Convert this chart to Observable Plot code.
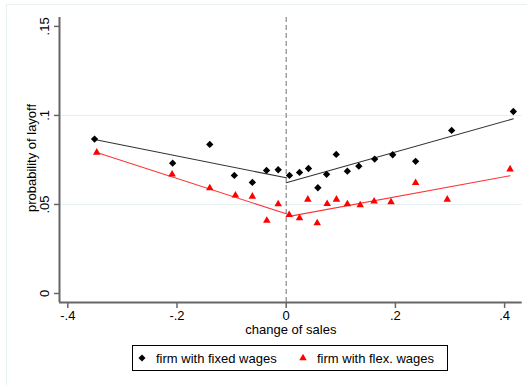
<!DOCTYPE html>
<html>
<head>
<meta charset="utf-8">
<script src="https://cdn.jsdelivr.net/npm/d3@7"></script>
<script src="https://cdn.jsdelivr.net/npm/@observablehq/plot@0.6"></script>
<style>
  body { margin: 0; background: #fff; }
  #wrap { position: relative; width: 527px; height: 385px; overflow: hidden; font-family: "Liberation Sans", Arial, sans-serif; }
  #outer { position: absolute; left: 6px; top: 4px; width: 540px; height: 400px; border: 1px solid #e8f0f0; box-sizing: border-box; pointer-events: none; }
  #chart { position: absolute; left: 0; top: 0; }
  #legend { position: absolute; left: 132px; top: 345px; width: 316px; height: 26px; box-sizing: border-box; border: 1px solid #000; background: #fff; font-size: 13px; color: #000; }
  #legend .item { position: absolute; top: 0; height: 24px; display: flex; align-items: center; }
  #legend svg { display: block; }
</style>
</head>
<body>
<div id="wrap">
  <div id="outer"></div>
  <div id="chart"></div>
  <div id="legend"></div>
</div>
<script>
// ---- data ----
const fixedX = [-0.351, -0.208, -0.140, -0.095, -0.062, -0.036, -0.0147, 0.006, 0.0244, 0.0408, 0.058, 0.074, 0.0916, 0.112, 0.133, 0.162, 0.195, 0.237, 0.303, 0.416];
const fixedY = [0.0867, 0.0732, 0.0837, 0.0663, 0.0624, 0.0691, 0.0695, 0.0663, 0.0680, 0.0702, 0.0594, 0.0669, 0.0781, 0.0687, 0.0715, 0.0755, 0.0779, 0.0742, 0.0916, 0.1022];
const flexX = [-0.347, -0.209, -0.140, -0.093, -0.062, -0.0355, -0.0147, 0.0055, 0.0244, 0.0396, 0.0568, 0.075, 0.092, 0.112, 0.1355, 0.161, 0.192, 0.237, 0.295, 0.410];
const flexY = [0.0792, 0.0669, 0.0592, 0.0551, 0.0545, 0.0410, 0.0502, 0.0442, 0.0423, 0.0528, 0.0395, 0.0504, 0.0528, 0.0502, 0.0496, 0.0517, 0.0513, 0.0622, 0.0528, 0.0698];
// fitted segments (left of 0, right of 0)
const fixedFitX = [-0.351, 0, 0, 0.416];
const fixedFitY = [0.0865, 0.0650, 0.0622, 0.0981];
const flexFitX = [-0.347, 0, 0.0055, 0.410];
const flexFitY = [0.0792, 0.0448, 0.0433, 0.0661];
const fitSegment = ["left", "left", "right", "right"];

const xTicks = [-0.4, -0.2, 0, 0.2, 0.4];
const xTickLabels = ["-.4", "-.2", "0", ".2", ".4"];
const yTicks = [0, 0.05, 0.1, 0.15];
const yTickLabels = ["0", ".05", ".1", ".15"];
const yGrid = [0.05, 0.1];
const xTitle = "change of sales";
const yTitle = "probability of layoff";
const seriesNames = ["firm with fixed wages", "firm with flex. wages"];
const seriesColors = ["#000000", "#ff0000"];
const lineColors = ["#333333", "#ff3333"];

const xDomain = [-0.4152, 0.4322];
const yDomain = [-0.00506, 0.155];

// ---- tables ----
const fixedPts = fixedX.map((x, i) => ({x, y: fixedY[i]}));
const flexPts = flexX.map((x, i) => ({x, y: flexY[i]}));
const fixedFit = fixedFitX.map((x, i) => ({x, y: fixedFitY[i], seg: fitSegment[i]}));
const flexFit = flexFitX.map((x, i) => ({x, y: flexFitY[i], seg: fitSegment[i]}));
const xLab = new Map(xTicks.map((t, i) => [t, xTickLabels[i]]));
const yLab = new Map(yTicks.map((t, i) => [t, yTickLabels[i]]));

const axisColor = "#666666";
const fs = 13;

const chart = Plot.plot({
  width: 527,
  height: 335,
  marginLeft: 59,
  marginRight: 5.3,
  marginTop: 17,
  marginBottom: 33,
  x: {domain: xDomain},
  y: {domain: yDomain},
  style: {fontFamily: "'Liberation Sans', Arial, sans-serif", fontSize: fs + "px", background: "transparent", color: "#000", overflow: "visible"},
  marks: [
    Plot.ruleY(yGrid, {stroke: "#e4eef0", strokeWidth: 1}),
    Plot.ruleX([0], {stroke: "#888888", strokeWidth: 1.2, strokeDasharray: "5,3"}),
    Plot.ruleY([yDomain[0]], {stroke: axisColor, strokeWidth: 2}),
    Plot.ruleX([xDomain[0]], {stroke: axisColor, strokeWidth: 2}),
    Plot.axisX({ticks: xTicks, tickSize: 6, tickPadding: 2, stroke: axisColor, strokeWidth: 1.5, tickFormat: d => xLab.get(d), label: null, fontSize: fs, fill: "#000"}),
    Plot.axisY({ticks: yTicks, tickSize: 5, tickFormat: () => "", label: null, stroke: axisColor, strokeWidth: 1.5}),
    Plot.text(yTicks, {y: d => d, frameAnchor: "left", textAnchor: "middle", lineAnchor: "middle", rotate: -90, dx: -15, text: d => yLab.get(d), fill: "#000", fontSize: fs}),
    Plot.text([xTitle], {frameAnchor: "bottom", textAnchor: "middle", lineAnchor: "middle", dy: 27.5, text: d => d, fill: "#000", fontSize: fs}),
    Plot.text([yTitle], {frameAnchor: "left", textAnchor: "middle", lineAnchor: "middle", rotate: -90, dx: -28, dy: -2, text: d => d, fill: "#000", fontSize: fs}),
    Plot.line(fixedFit, {x: "x", y: "y", z: "seg", stroke: lineColors[0], strokeWidth: 1.1}),
    Plot.line(flexFit, {x: "x", y: "y", z: "seg", stroke: lineColors[1], strokeWidth: 1.1}),
    Plot.dot(fixedPts, {x: "x", y: "y", symbol: "diamond2", r: 3.3, fill: seriesColors[0], stroke: "none"}),
    Plot.dot(flexPts, {x: "x", y: "y", symbol: "triangle", r: 2.8, fill: seriesColors[1], stroke: "none"})
  ]
});
document.getElementById("chart").appendChild(chart);

// legend
const legend = document.getElementById("legend");
const sym = [
  '<svg width="10" height="10" viewBox="-5 -5 10 10"><path d="' + d3.symbol(d3.symbolDiamond2, 32)() + '" fill="' + seriesColors[0] + '"/></svg>',
  '<svg width="10" height="10" viewBox="-5 -5 10 10"><path d="' + d3.symbol(d3.symbolTriangle, 24)() + '" fill="' + seriesColors[1] + '"/></svg>'
];
const itemLeft = [4, 165];
seriesNames.forEach((name, i) => {
  const it = document.createElement("div");
  it.className = "item";
  it.style.left = itemLeft[i] + "px";
  it.innerHTML = sym[i] + '<span style="margin-left:9px">' + name + '</span>';
  legend.appendChild(it);
});
</script>
</body>
</html>
